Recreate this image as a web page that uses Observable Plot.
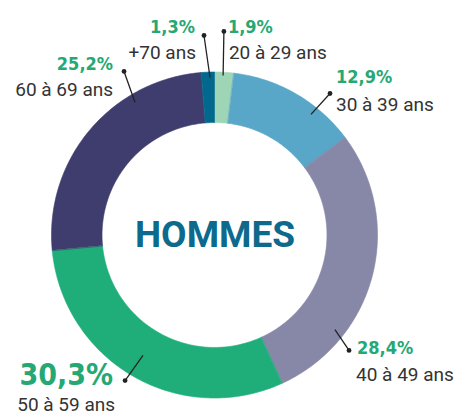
<!DOCTYPE html>
<html><head><meta charset="utf-8">
<script src="https://cdn.jsdelivr.net/npm/d3@7"></script>
<script src="https://cdn.jsdelivr.net/npm/@observablehq/plot@0.6"></script>
<style>
body{margin:0;background:#fff}
g[aria-label="pct"]{font-stretch:condensed}
</style>
</head><body><div id="chart"></div>
<script>
// ---- data ----
const categories = ["20 à 29 ans","30 à 39 ans","40 à 49 ans","50 à 59 ans","60 à 69 ans","+70 ans"];
const values = [1.9, 12.9, 28.4, 30.3, 25.2, 1.3];
const percentLabels = ["1,9%","12,9%","28,4%","30,3%","25,2%","1,3%"];
const colors = ["#9dd5b6","#58a6c8","#8787a8","#1fae7a","#3f3d6d","#03688e"];
const centerTitle = "HOMMES";

// ---- label layout (angles in degrees clockwise from top, radii relative to outer radius) ----
const leaderInAngle  = [2.9, 38.4, 128.1, 211.0, -31.0, -1.8];
const leaderInRadius = [0.983, 0.948, 0.935, 0.858, 0.952, 0.97];
const leaderOutAngle = [2.5, 39.0, 130.6, 211.8, -29.0, -3.15];
const leaderOutRadius= [1.253, 1.121, 1.083, 1.047, 1.151, 1.229];
const labelAnchor    = ["start","start","start","end","end","end"];
const pctOffset  = [[4,2],[6,-10],[8,4],[-12,4],[-11,-1],[-9,-2]];
const nameOffset = [[5,28],[6,18],[7,31],[-10,30],[-11,25],[-8,24]];
const pctSize    = [18,18,18,30,18,18];

// ---- geometry ----
const W = 455, H = 414, cx = 214.5, cy = 235, R = 163, innerRatio = 0.69;
const pie = d3.pie().sort(null).value(d => d)(values);
const pts = [];
pie.forEach((p, i) => {
  const n = Math.max(2, Math.ceil((p.endAngle - p.startAngle) * 180 / Math.PI));
  for (let k = 0; k <= n; k++) {
    const a = p.startAngle + (p.endAngle - p.startAngle) * k / n;
    pts.push({cat: categories[i], x1: Math.sin(a), y1: Math.cos(a),
              x2: Math.sin(a) * innerRatio, y2: Math.cos(a) * innerRatio});
  }
});
const rad = d => d * Math.PI / 180;
const labels = categories.map((c, i) => {
  const xo = Math.sin(rad(leaderOutAngle[i])) * leaderOutRadius[i];
  const yo = Math.cos(rad(leaderOutAngle[i])) * leaderOutRadius[i];
  return {
    cat: c, pct: percentLabels[i], anchor: labelAnchor[i], size: pctSize[i],
    xi: Math.sin(rad(leaderInAngle[i])) * leaderInRadius[i],
    yi: Math.cos(rad(leaderInAngle[i])) * leaderInRadius[i],
    xo, yo,
    px: xo + pctOffset[i][0] / R, py: yo - pctOffset[i][1] / R,
    nx: xo + nameOffset[i][0] / R, ny: yo - nameOffset[i][1] / R
  };
});

const textMarks = [];
for (const anchor of ["start","end"]) {
  const sub = labels.filter(d => d.anchor === anchor);
  textMarks.push(Plot.text(sub, {x: "px", y: "py", text: "pct", textAnchor: anchor, lineAnchor: "bottom",
    fontSize: "size", fontWeight: "bold", fill: "#25a873",
    fontFamily: "'DejaVu Sans Condensed','DejaVu Sans',sans-serif", ariaLabel: "pct"}));
  textMarks.push(Plot.text(sub, {x: "nx", y: "ny", text: "cat", textAnchor: anchor, lineAnchor: "bottom",
    fontSize: 19, fill: "#333", fontFamily: "Roboto, sans-serif"}));
}

const chart = Plot.plot({
  width: W, height: H, margin: 0,
  x: {domain: [-1, 1], range: [cx - R, cx + R], axis: null},
  y: {domain: [-1, 1], range: [cy + R, cy - R], axis: null},
  color: {domain: categories, range: colors},
  style: {background: "#fff", overflow: "visible"},
  marks: [
    Plot.area(pts, {x1: "x1", y1: "y1", x2: "x2", y2: "y2", z: "cat", fill: "cat",
      stroke: "cat", strokeWidth: 0.6, curve: "linear"}),
    Plot.link(labels, {x1: "xi", y1: "yi", x2: "xo", y2: "yo", stroke: "#222", strokeWidth: 1.3}),
    Plot.dot(labels, {x: "xo", y: "yo", r: 2.4, fill: "#222"}),
    ...textMarks,
    Plot.text([centerTitle], {x: () => 0, y: () => 0, text: d => d, fontSize: 37, fontWeight: "bold",
      fill: "#0d6a8c", fontFamily: "Roboto, sans-serif", lineAnchor: "middle"})
  ]
});
document.getElementById("chart").appendChild(chart);
</script>
</body></html>
